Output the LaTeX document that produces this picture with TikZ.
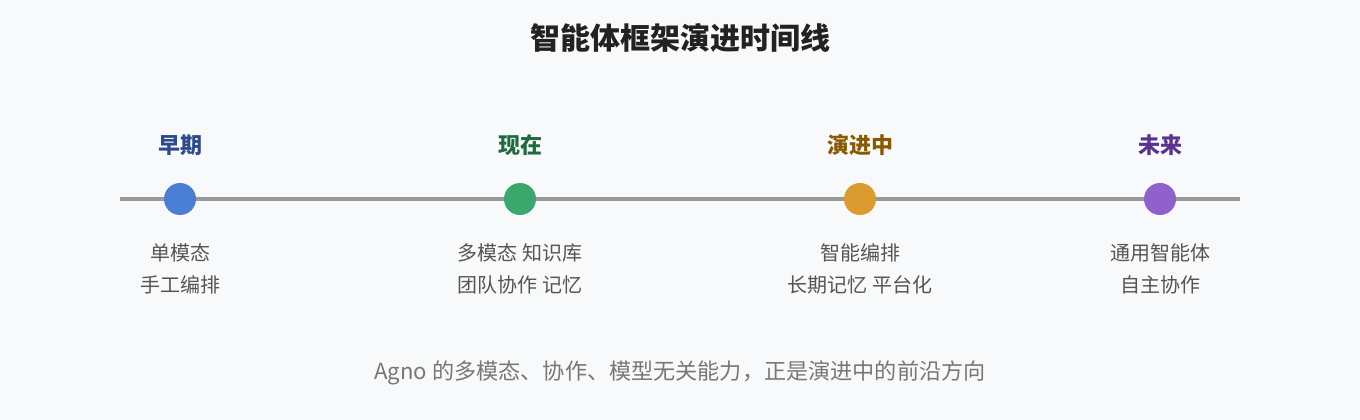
\documentclass[tikz,border=0pt]{standalone}
\usepackage{fontspec}
\setmainfont{Noto Sans CJK SC}
\definecolor{bg}{HTML}{F8F9FA}
\definecolor{axis}{HTML}{999999}
\definecolor{cblue}{HTML}{4A7FD4}
\definecolor{cgreen}{HTML}{3AA76D}
\definecolor{corange}{HTML}{DC9B2E}
\definecolor{cpurple}{HTML}{9060CC}
\definecolor{tblue}{HTML}{2C4A8C}
\definecolor{tgreen}{HTML}{1E6B3C}
\definecolor{torange}{HTML}{8A5A00}
\definecolor{tpurple}{HTML}{5A3290}
\definecolor{tdesc}{HTML}{555555}
\definecolor{tfoot}{HTML}{777777}
\definecolor{ttitle}{HTML}{222222}
\begin{document}
\begin{tikzpicture}[x=0.75pt,y=-0.75pt,
  dot/.style={circle,inner sep=0pt,minimum size=24pt},
  era/.style={font=\fontsize{16.5pt}{20pt}\selectfont\bfseries,inner sep=0pt},
  desc/.style={font=\fontsize{15pt}{24pt}\selectfont,text=tdesc,align=center,inner sep=0pt}]
\fill[bg] (0,0) rectangle (1360,420);
\useasboundingbox (0,0) rectangle (1360,420);
\node[font=\fontsize{22.5pt}{26pt}\selectfont\bfseries,text=ttitle,inner sep=0pt] (title) at (680,38) {智能体框架演进时间线};
\coordinate (l) at (120,199);
\coordinate (r) at (1240,199);
\draw[axis,line width=3pt] (l) -- (r);
\node[dot,fill=cblue] (d1) at (180,199) {};
\node[dot,fill=cgreen] (d2) at (520,199) {};
\node[dot,fill=corange] (d3) at (860,199) {};
\node[dot,fill=cpurple] (d4) at (1160,199) {};
\node[era,text=tblue] (e1) at (180,145) {早期};
\node[era,text=tgreen] (e2) at (520,145) {现在};
\node[era,text=torange] (e3) at (860,145) {演进中};
\node[era,text=tpurple] (e4) at (1160,145) {未来};
\node[desc] (s1) at (180,269) {单模态\\手工编排};
\node[desc] (s2) at (520,269) {多模态 知识库\\团队协作 记忆};
\node[desc] (s3) at (860,269) {智能编排\\长期记忆 平台化};
\node[desc] (s4) at (1160,269) {通用智能体\\自主协作};
\node[font=\fontsize{16.6pt}{20pt}\selectfont,text=tfoot,inner sep=0pt] (foot) at (680,373) {Agno 的多模态、协作、模型无关能力，正是演进中的前沿方向};
\end{tikzpicture}
\end{document}
